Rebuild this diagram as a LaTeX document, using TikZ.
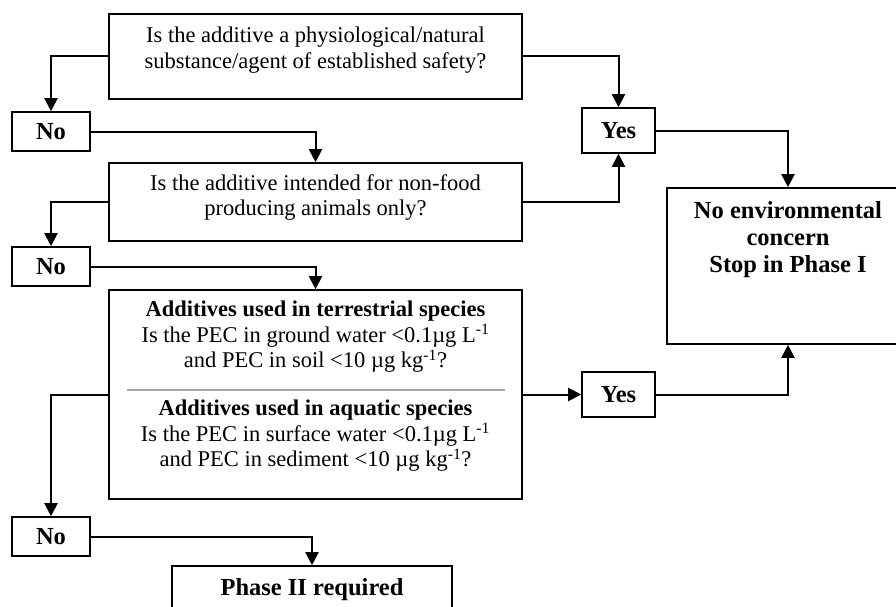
\documentclass[tikz,border=0pt]{standalone}
\usepackage{fontspec}
\setmainfont{Liberation Serif}
\usetikzlibrary{arrows.meta}
\tikzset{
  box/.style={draw=black, line width=1.6pt, rectangle, inner sep=0pt},
  txt/.style={align=center, inner sep=0pt, font=\fontsize{22.5}{25.5}\selectfont},
  btxt/.style={txt, font=\fontsize{24.5}{27}\selectfont\bfseries},
  flow/.style={line width=2pt, -{Triangle[length=13pt,width=13pt]}},
}
\begin{document}
\begin{tikzpicture}[x=1pt, y=-1pt]
\clip (0,0) rectangle (896,607);
\useasboundingbox (0,0) rectangle (896,607);

% question boxes
\node[box, minimum width=413pt, minimum height=85pt] (q1) at (315.5,56.5) {};
\node[txt] (q1t) at (315.5,50) {Is the additive a physiological/natural\\substance/agent of established safety?};

\node[box, minimum width=413pt, minimum height=78pt] (q2) at (315.5,202) {};
\node[txt] (q2t) at (315.5,197.5) {Is the additive intended for non-food\\producing animals only?};

\node[box, minimum width=413pt, minimum height=209pt] (q3) at (315.5,394.5) {};
\node[txt] (q3a) at (315.5,337) {\textbf{Additives used in terrestrial species}\\Is the PEC in ground water {<}0.1µg L\textsuperscript{-1}\\and PEC in soil {<}10 µg kg\textsuperscript{-1}?};
\draw[gray!70, line width=1.8pt] (127,390) -- (505,390);
\node[txt] (q3b) at (315.5,436) {\textbf{Additives used in aquatic species}\\Is the PEC in surface water {<}0.1µg L\textsuperscript{-1}\\and PEC in sediment {<}10 µg kg\textsuperscript{-1}?};

% answer boxes
\node[box, minimum width=78pt, minimum height=39pt, btxt] (no1) at (51,131.5) {No};
\node[box, minimum width=78pt, minimum height=39pt, btxt] (no2) at (51,266.5) {No};
\node[box, minimum width=78pt, minimum height=39pt, btxt] (no3) at (51,536.5) {No};
\node[box, minimum width=73pt, minimum height=45pt, btxt] (yes1) at (618.5,130.5) {Yes};
\node[box, minimum width=73pt, minimum height=45pt, btxt] (yes2) at (618.5,394.5) {Yes};

% outcomes
\node[box, minimum width=242pt, minimum height=156pt] (stop) at (788,266) {};
\node[btxt] (stopt) at (788,240) {No environmental\\concern\\Stop in Phase I};
\node[box, minimum width=280pt, minimum height=80pt] (ph2) at (312,606) {};
\node[btxt] (ph2t) at (312,590) {Phase II required};

% connectors
\draw[flow] (q1.west) -| (no1.north);
\draw[flow] (no1.east) -| (q2.north);
\draw[flow] (q2.west) -| (no2.north);
\draw[flow] (no2.east) -| (q3.north);
\draw[flow] (q3.west) -| (no3.north);
\draw[flow] (no3.east) -| (ph2.north);
\draw[flow] (q1.east) -| (yes1.north);
\draw[flow] (q2.east) -| (yes1.south);
\draw[flow] (yes1.east) -| (stop.north);
\draw[flow] (q3.east) -- (yes2.west);
\draw[flow] (yes2.east) -| (stop.south);
\end{tikzpicture}
\end{document}
